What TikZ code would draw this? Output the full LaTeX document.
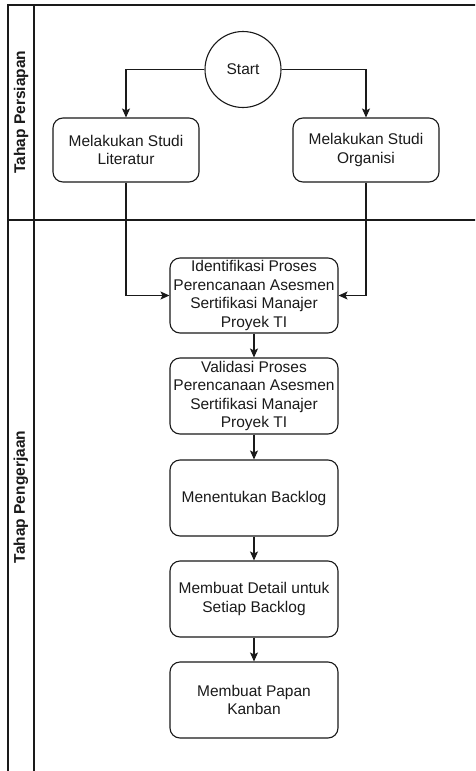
\documentclass[tikz,border=0pt]{standalone}
\usepackage{fontspec}
\setmainfont{Liberation Sans}
\usetikzlibrary{arrows.meta,positioning}
\definecolor{ink}{HTML}{1A1A1A}
\begin{document}
\begin{tikzpicture}[x=1pt,y=1pt,
  lane/.style={draw=ink,line width=1.3pt},
  stepbox/.style={draw=ink,line width=1.1pt,rounded corners=10pt,minimum width=168pt,inner sep=0pt,align=center,font=\fontsize{15.5}{18.6}\selectfont,text=ink},
  startnode/.style={draw=ink,line width=1.1pt,circle,minimum size=76pt,inner sep=0pt,font=\fontsize{15.5}{18.6}\selectfont,text=ink},
  lanelabel/.style={rotate=90,font=\fontsize{15.5}{18.6}\selectfont\bfseries,text=ink},
  conn/.style={draw=ink,line width=1.1pt,-{Stealth[length=9pt,width=8pt,inset=2pt]}}]
\useasboundingbox (0,0) rectangle (475,-771);
\clip (0,0) rectangle (475,-771);
\fill[white] (0,0) rectangle (475,-771);
% pool and lanes
\draw[lane] (8,-5) rectangle (490,-790);
\draw[lane] (34,-5) -- (34,-790);
\draw[lane] (8,-220) -- (490,-220);
\node[lanelabel] (l1) at (21,-112) {Tahap Persiapan};
\node[lanelabel] (l2) at (21,-497) {Tahap Pengerjaan};
% nodes
\node[startnode] (start) at (243,-69.5) {Start};
\node[stepbox,minimum width=146pt,minimum height=64pt] (lit) at (126,-150) {Melakukan Studi\\Literatur};
\node[stepbox,minimum width=146pt,minimum height=64pt] (org) at (366,-150) {Melakukan Studi\\Organisi};
\node[stepbox,minimum height=75pt] (idf) at (254,-295.5) {Identifikasi Proses\\Perencanaan Asesmen\\Sertifikasi Manajer\\Proyek TI};
\node[stepbox,minimum height=76pt] (val) at (254,-396) {Validasi Proses\\Perencanaan Asesmen\\Sertifikasi Manajer\\Proyek TI};
\node[stepbox,minimum height=76pt] (blg) at (254,-498) {Menentukan Backlog};
\node[stepbox,minimum height=76pt] (det) at (254,-599) {Membuat Detail untuk\\Setiap Backlog};
\node[stepbox,minimum height=76pt] (kan) at (254,-700) {Membuat Papan\\Kanban};
% connectors
\draw[conn] (start.west) -| (lit.north);
\draw[conn] (start.east) -| (org.north);
\draw[conn] (lit.south) |- (idf.west);
\draw[conn] (org.south) |- (idf.east);
\draw[conn] (idf) -- (val);
\draw[conn] (val) -- (blg);
\draw[conn] (blg) -- (det);
\draw[conn] (det) -- (kan);
\end{tikzpicture}
\end{document}
